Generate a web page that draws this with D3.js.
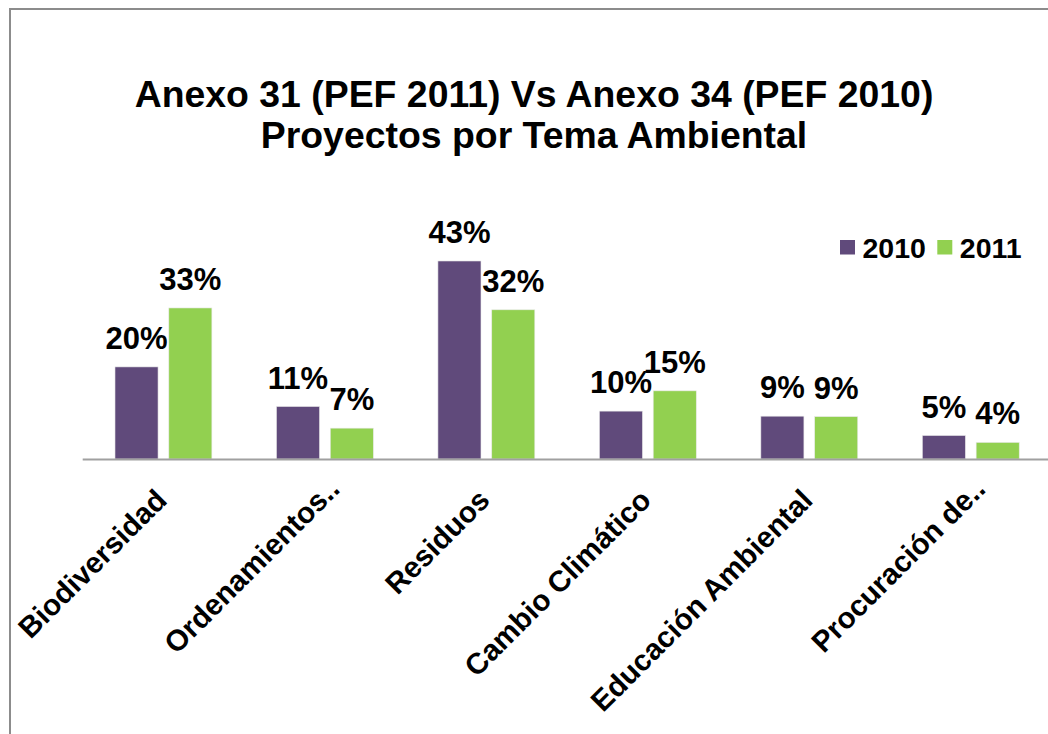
<!DOCTYPE html>
<html>
<head>
<meta charset="utf-8">
<script src="https://cdn.jsdelivr.net/npm/d3@7"></script>
<style>
  body { margin: 0; background: #fff; }
  text { font-family: Arial, "Liberation Sans", sans-serif; font-weight: bold; fill: #000; }
</style>
</head>
<body>
<script>
const WIDTH = 1048;
const HEIGHT = 734;

const categorias = ["Biodiversidad", "Ordenamientos..", "Residuos", "Cambio Climático", "Educación Ambiental", "Procuración de.."];
const series = ["2010", "2011"];
const valores2010 = [20.0, 11.4, 43.0, 10.4, 9.3, 5.1];
const valores2011 = [32.8, 6.7, 32.4, 14.8, 9.2, 3.6];
const titulo = ["Anexo 31 (PEF 2011) Vs Anexo 34 (PEF 2010)", "Proyectos por Tema Ambiental"];

const colores = { "2010": "#604a7b", "2011": "#92d050" };

const datos = categorias.map((c, i) => ({
    cat: c,
    valores: [
        { serie: "2010", v: valores2010[i] },
        { serie: "2011", v: valores2011[i] },
    ],
}));

const svg = d3.select("body")
    .append("svg")
    .attr("width", WIDTH)
    .attr("height", HEIGHT);

// marco del grafico
svg.append("rect")
    .attr("x", 10)
    .attr("y", 9)
    .attr("width", 1100)
    .attr("height", 800)
    .attr("fill", "none")
    .attr("stroke", "#8c8c8c")
    .attr("stroke-width", 2);

svg.append("text")
    .attr("x", 534)
    .attr("text-anchor", "middle")
    .attr("font-size", 37.4)
    .selectAll("tspan")
    .data(titulo)
    .join("tspan")
    .attr("x", 534)
    .attr("y", (d, i) => 107 + i * 40.5)
    .text(d => d);

const x0 = d3.scaleBand()
    .domain(categorias)
    .range([82.7, 1051.5]);

// ancho de grupo: 2 barras + traslape -25%
const w = x0.step() / 3.75;
const x1 = d3.scaleBand()
    .domain(series)
    .range([(x0.step() - 2.25 * w) / 2, (x0.step() + 2.25 * w) / 2])
    .paddingInner(0.25 / 1.25);

const y = d3.scaleLinear()
    .domain([0, 50])
    .range([459, 228.75]);

const grupos = svg.append("g")
    .selectAll("g")
    .data(datos)
    .join("g")
    .attr("transform", d => `translate(${x0(d.cat)},0)`);

grupos.selectAll("rect")
    .data(d => d.valores)
    .join("rect")
    .attr("x", d => x1(d.serie))
    .attr("y", d => y(d.v))
    .attr("width", x1.bandwidth())
    .attr("height", d => y(0) - y(d.v))
    .attr("fill", d => colores[d.serie])
    .attr("stroke", "#e8e8e8")
    .attr("stroke-width", 0.6);

grupos.selectAll("text")
    .data(d => d.valores)
    .join("text")
    .attr("x", d => x1(d.serie) + x1.bandwidth() / 2)
    .attr("y", d => y(d.v) - 18)
    .attr("text-anchor", "middle")
    .attr("font-size", 31)
    .text(d => Math.round(d.v) + "%");

// eje x
svg.append("line")
    .attr("x1", x0.range()[0])
    .attr("x2", WIDTH)
    .attr("y1", y(0) + 0.5)
    .attr("y2", y(0) + 0.5)
    .attr("stroke", "#a0a0a0")
    .attr("stroke-width", 2);

// etiquetas truncadas quedan un poco mas a la derecha
svg.append("g")
    .selectAll("text")
    .data(categorias)
    .join("text")
    .attr("transform", d => `translate(${x0(d) + x0.bandwidth() / 2 + 5},502) rotate(-45)`)
    .attr("dx", d => d.endsWith("..") ? 16 : 0)
    .attr("text-anchor", "end")
    .attr("font-size", 29.5)
    .text(d => d);

// leyenda
const leyenda = svg.append("g")
    .selectAll("g")
    .data(series)
    .join("g")
    .attr("transform", (d, i) => `translate(${840 + i * 97.3},240)`);

leyenda.append("rect")
    .attr("width", 15)
    .attr("height", 14.5)
    .attr("fill", d => colores[d]);

leyenda.append("text")
    .attr("x", 22.5)
    .attr("y", 17.5)
    .attr("font-size", 28.5)
    .text(d => d);
</script>
</body>
</html>
